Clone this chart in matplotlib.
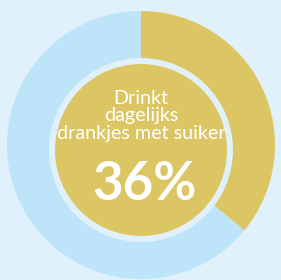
import matplotlib.pyplot as plt
from matplotlib.patches import Circle

# Datos del gráfico
categorias = ["Drinkt dagelijks drankjes met suiker", "Overig"]
valores = [36, 64]
etiqueta = "Drinkt\ndagelijks\ndrankjes met suiker"
porcentaje = "36%"

# Colores
fondo = "#e0f1fc"
azul = "#bde4f8"
oro = "#dcc664"

fig = plt.figure(figsize=(2.81, 2.80), dpi=100)
fig.patch.set_facecolor(fondo)
ax = fig.add_axes([0, 0, 1, 1])
ax.set_facecolor(fondo)

# Anillo exterior
ax.pie(valores, colors=[oro, azul], startangle=90, counterclock=False,
       radius=134, center=(141, 135), wedgeprops=dict(linewidth=0))

# Hueco y círculo interior
ax.add_patch(Circle((141, 130), 92, facecolor=fondo, edgecolor="none"))
ax.add_patch(Circle((141, 130), 86, facecolor=oro, edgecolor="none"))

ax.text(141, 164, etiqueta, ha="center", va="center", color="white",
        fontsize=14.2, family=["Liberation Sans Narrow", "Lato", "DejaVu Sans"],
        linespacing=1.02)
ax.text(144, 96, porcentaje, ha="center", va="center", color="white",
        fontsize=38, fontweight="bold", family=["Lato", "DejaVu Sans"])

ax.set_xlim(0, 281)
ax.set_ylim(0, 280)
ax.set_aspect("equal")
ax.axis("off")

fig.savefig("out.png", dpi=100, facecolor=fondo)
